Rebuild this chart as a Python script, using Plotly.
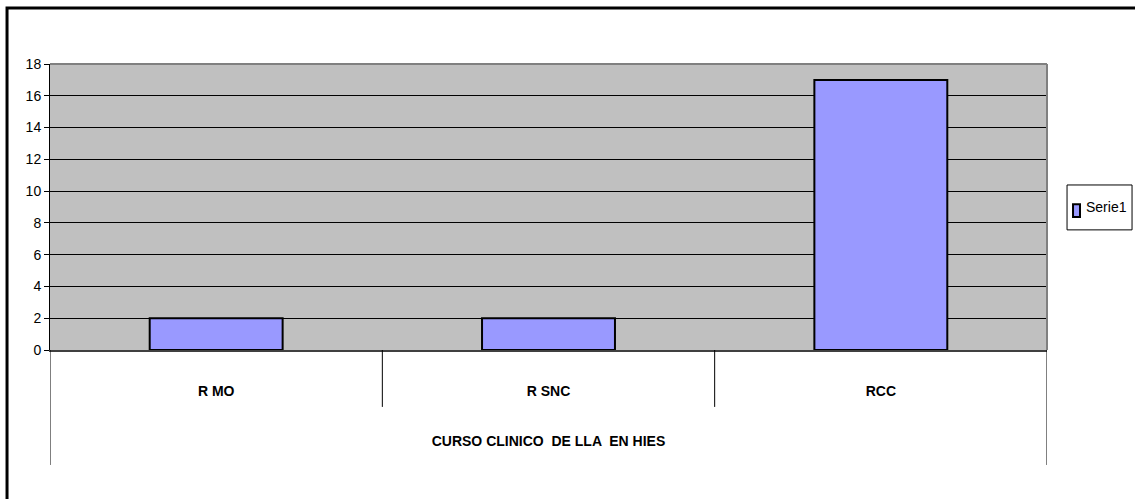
import plotly.graph_objects as go

categories = ["R MO", "R SNC", "RCC"]
values = [2, 2, 17]
series_name = "Serie1"
group_title = "CURSO CLINICO  DE LLA  EN HIES"
y_ticks = list(range(0, 19, 2))

FONT = "Liberation Sans Narrow, Arial Narrow, Liberation Sans, Arial, sans-serif"
BAR_COLOR = "#9999FF"

fig = go.Figure()
fig.add_trace(go.Bar(
    x=categories,
    y=values,
    name=series_name,
    width=0.4,
    marker=dict(color=BAR_COLOR, line=dict(color="black", width=2)),
    showlegend=False,
))

n = len(categories)
shapes = []
# category separators below the axis (outer ones longer, spanning the group label)
for i in range(n + 1):
    edge = i - 0.5
    outer = i == 0 or i == n
    shapes.append(dict(type="line", xref="x", yref="paper", x0=edge, x1=edge,
                       y0=0, y1=-0.402 if outer else -0.199,
                       line=dict(color="black", width=1)))
# darker frame on top and right of the plot area
shapes.append(dict(type="line", xref="paper", yref="paper", x0=0, x1=1, y0=1, y1=1,
                   line=dict(color="#808080", width=2)))
shapes.append(dict(type="line", xref="paper", yref="paper", x0=1, x1=1, y0=0, y1=1,
                   line=dict(color="#808080", width=2)))
# chart border
shapes.append(dict(type="rect", xref="paper", yref="paper", x0=-0.0431, x1=1.2,
                   y0=-1.0, y1=1.196, line=dict(color="black", width=3),
                   fillcolor="rgba(0,0,0,0)", layer="above"))

# legend box with swatch for the single series
shapes.append(dict(type="rect", xref="paper", yref="paper",
                   x0=1.0201, x1=1.0853, y0=0.420, y1=0.577,
                   line=dict(color="black", width=1), fillcolor="white"))
shapes.append(dict(type="rect", xref="paper", yref="paper",
                   x0=1.0261, x1=1.0331, y0=0.465, y1=0.510,
                   line=dict(color="black", width=2), fillcolor=BAR_COLOR))

annotations = [dict(text=series_name, xref="paper", yref="paper",
                    x=1.0371, y=0.4985, xanchor="left", yanchor="middle",
                    showarrow=False, font=dict(size=14, family=FONT, color="black"))]

fig.update_layout(
    width=1135, height=499,
    margin=dict(l=50, r=88, t=64, b=149, autoexpand=False),
    paper_bgcolor="white",
    plot_bgcolor="#C0C0C0",
    font=dict(family=FONT, color="black"),
    shapes=shapes,
    annotations=annotations,
    showlegend=False,
    xaxis=dict(
        type="category",
        range=[-0.5, n - 0.5],
        showgrid=False,
        showline=True, linecolor="#404040", linewidth=2,
        ticks="",
        ticklabelstandoff=27,
        tickfont=dict(size=14, family=FONT, weight="bold"),
        title=dict(text=group_title, font=dict(size=14, family=FONT, weight="bold"), standoff=38),
        zeroline=False,
    ),
    yaxis=dict(
        range=[0, 18],
        tickvals=y_ticks,
        showgrid=True, gridcolor="black", gridwidth=1,
        showline=True, linecolor="black", linewidth=1,
        ticks="outside", ticklen=5, tickcolor="black",
        tickfont=dict(size=14, family=FONT),
        zeroline=False,
    ),
)

fig.write_html("out.html")
